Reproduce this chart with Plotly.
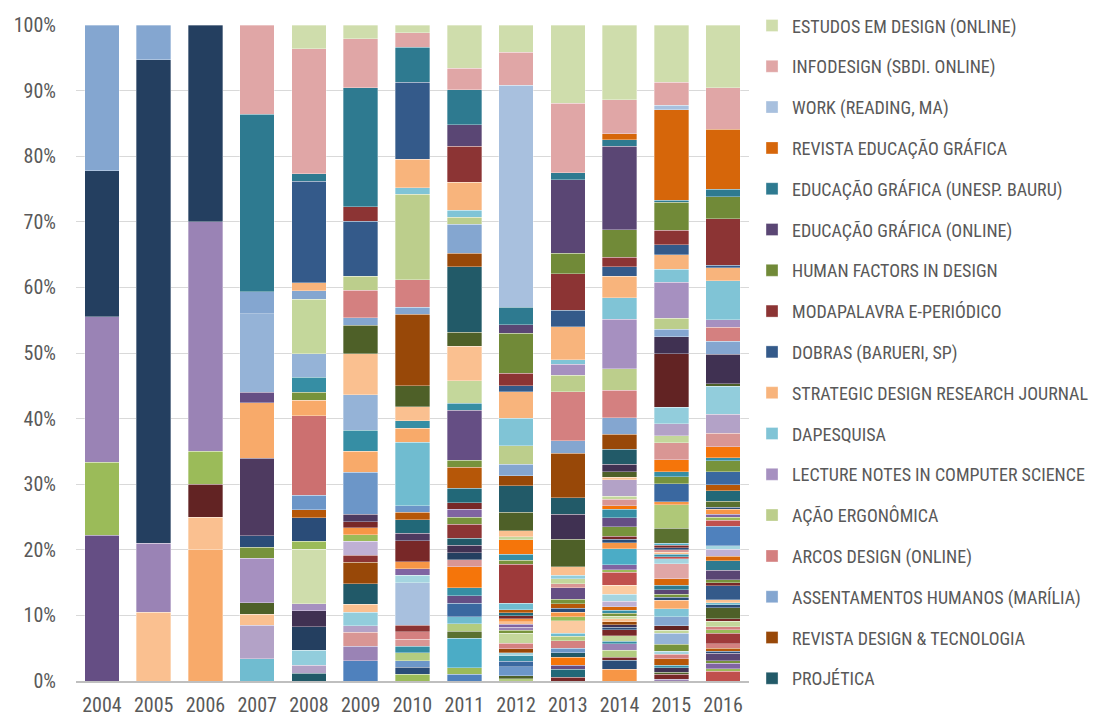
import plotly.graph_objects as go

years = ['2004', '2005', '2006', '2007', '2008', '2009', '2010',
         '2011', '2012', '2013', '2014', '2015', '2016']

# Named journals (share of articles per year, %), legend order top -> bottom
estudos_design = [0, 0, 0, 0, 3.6, 2.1, 1.2, 6.6, 4.2, 11.9, 11.4, 8.7, 9.6]
infodesign = [0, 0, 0, 13.6, 19.1, 7.5, 2.2, 3.3, 5.0, 10.6, 5.2, 3.5, 6.3]
work = [0, 0, 0, 0, 0, 0, 0, 0, 34.0, 0, 0, 0.7, 0]
revista_educ_grafica = [0, 0, 0, 0, 0, 0, 0, 0, 0, 0, 0.9, 13.8, 9.1]
educ_grafica_unesp = [0, 0, 0, 27.0, 1.1, 18.1, 5.3, 5.3, 2.7, 1.1, 1.0, 0.3, 1.2]
educ_grafica_online = [0, 0, 0, 0, 0, 0, 0, 3.3, 1.3, 11.2, 12.7, 0, 0]
human_factors = [0, 0, 0, 0, 0, 0, 0, 0, 6.1, 3.1, 4.2, 4.3, 3.3]
modapalavra = [0, 0, 0, 0, 0, 2.2, 0, 5.5, 1.9, 5.6, 1.5, 2.2, 7.1]
dobras = [0, 0, 0, 0, 15.5, 8.4, 11.8, 0, 0.9, 2.5, 1.4, 1.5, 0.4]
strategic = [0, 0, 0, 0, 1.2, 0, 4.3, 4.3, 4.1, 5.0, 3.3, 2.2, 2.0]
dapesquisa = [0, 0, 0, 0, 0, 0, 1.0, 1.0, 4.2, 0.7, 3.3, 2.0, 5.9]
lecture_notes = [0, 0, 0, 0, 0, 0, 0, 0, 0, 1.7, 7.5, 5.5, 1.2]
acao_ergonomica = [0, 0, 0, 0, 0, 2.1, 13.0, 1.1, 2.8, 2.5, 3.3, 1.7, 0]
arcos_design = [0, 0, 0, 0, 0, 4.2, 4.2, 0, 0, 7.5, 4.2, 0, 2.1]
assentamentos = [22.2, 5.3, 0, 3.4, 1.3, 1.2, 1.1, 4.4, 1.8, 1.9, 2.5, 1.1, 2.0]
revista_design_tec = [0, 0, 0, 0, 0, 0, 10.9, 2.1, 1.5, 6.8, 2.3, 0, 0]
projetica = [0, 0, 0, 0, 0, 0, 0, 10.0, 4.1, 2.5, 2.3, 0, 0]

named_series = [
    ('ESTUDOS EM DESIGN (ONLINE)', estudos_design, '#CFDDAC'),
    ('INFODESIGN (SBDI. ONLINE)', infodesign, '#E0A6A6'),
    ('WORK (READING, MA)', work, '#A8C0DE'),
    ('REVISTA EDUCAÇÃO GRÁFICA', revista_educ_grafica, '#D6660A'),
    ('EDUCAÇÃO GRÁFICA (UNESP. BAURU)', educ_grafica_unesp, '#2E7A90'),
    ('EDUCAÇÃO GRÁFICA (ONLINE)', educ_grafica_online, '#5A4674'),
    ('HUMAN FACTORS IN DESIGN', human_factors, '#718A38'),
    ('MODAPALAVRA E-PERIÓDICO', modapalavra, '#8C3434'),
    ('DOBRAS (BARUERI, SP)', dobras, '#345A8A'),
    ('STRATEGIC DESIGN RESEARCH JOURNAL', strategic, '#F8B47C'),
    ('DAPESQUISA', dapesquisa, '#80C4D6'),
    ('LECTURE NOTES IN COMPUTER SCIENCE', lecture_notes, '#A690C0'),
    ('AÇÃO ERGONÔMICA', acao_ergonomica, '#BCCE8C'),
    ('ARCOS DESIGN (ONLINE)', arcos_design, '#D48080'),
    ('ASSENTAMENTOS HUMANOS (MARÍLIA)', assentamentos, '#84A6D0'),
    ('REVISTA DESIGN & TECNOLOGIA', revista_design_tec, '#984808'),
    ('PROJÉTICA', projetica, '#225A68'),
]

# Remaining (unlabelled) journals per year, bottom -> top, share in %
other_2004 = [22.2, 11.1, 22.2, 22.2]
other_2005 = [10.5, 10.5, 73.7]
other_2006 = [20, 5, 5, 5, 35, 30]
other_2007 = [3.4, 5.1, 1.7, 1.7, 6.8, 1.7, 1.7, 11.8, 8.5, 1.6, 11.9]
other_2008 = [1.2, 1.2, 2.3, 3.6, 2.4, 1.1, 8.3, 1.2, 3.6, 1.2, 2.2, 12.1,
              2.4, 1.2, 2.3, 3.6, 8.3]
other_2009 = [3.1, 2.2, 2.1, 1.0, 2.1, 1.2, 3.1, 3.3, 1.1, 2.1, 1.0, 1.1,
              0.9, 1.1, 6.4, 3.2, 3.2, 5.4, 6.3, 4.3]
other_2010 = [1.0, 1.1, 1.0, 1.2, 1.0, 1.1, 1.1, 1.0, 6.5, 1.1, 1.0, 1.1,
              3.2, 1.1, 2.1, 1.1, 1.0, 9.7, 2.1, 1.2, 2.1, 3.2]
other_2011 = [1.0, 1.0, 4.5, 1.1, 1.1, 1.1, 2.1, 1.1, 1.2, 3.2, 1.1, 1.1,
              1.1, 1.1, 2.1, 1.1, 1.2, 1.0, 2.2, 3.2, 1.1, 7.6, 1.1, 3.4,
              5.3, 2.1]
other_2012 = [0.35, 0.45, 1.4, 0.8, 0.9, 0.4, 0.6, 0.9, 1.5, 0.45, 0.45,
              0.45, 0.45, 0.45, 0.45, 0.45, 0.45, 1.0, 6.0, 0.6, 0.9, 2.2,
              0.5, 0.9, 2.8]
other_2013 = [0.6, 1.2, 0.6, 1.2, 0.7, 0.7, 1.1, 0.7, 0.5, 1.9, 0.6, 0.7,
              0.6, 0.7, 0.7, 1.7, 0.6, 0.8, 0.5, 1.3, 4.2, 3.8]
other_2014 = [1.8, 1.4, 0.4, 1.1, 1.0, 0.4, 0.8, 0.9, 0.4, 0.4, 0.4, 0.5,
              0.4, 0.4, 0.5, 0.5, 0.9, 1.0, 1.4, 2.0, 0.4, 0.7, 2.5, 0.9,
              0.5, 0.5, 1.4, 1.4, 1.3, 0.5, 1.0, 0.5, 2.5, 0.35, 0.9, 1.1]
other_2015 = [0.3, 0.7, 0.3, 0.7, 0.4, 1.0, 0.7, 0.4, 1.1, 1.7, 0.4, 0.7,
              1.4, 1.2, 1.3, 0.5, 0.4, 0.7, 0.7, 1.0, 2.3, 0.7, 0.35, 0.35,
              0.35, 0.35, 0.35, 0.35, 0.3, 2.3, 3.6, 0.4, 2.8, 1.0, 0.8,
              1.8, 2.6, 1.1, 1.8, 2.5, 8.2, 2.6]
other_2016 = [1.5, 0.4, 0.8, 0.4, 1.1, 0.3, 0.5, 0.7, 1.6, 0.5, 0.5, 0.8,
              0.4, 1.7, 0.4, 0.3, 0.5, 2.1, 0.5, 0.4, 1.5, 1.4, 0.7, 1.1,
              0.5, 3.0, 0.9, 0.5, 0.4, 0.8, 0.3, 0.9, 1.6, 0.9, 2.0, 1.7,
              0.4, 1.7, 2.1, 2.9, 4.2, 0.4, 4.5]

# ---- styling (colours of the unlabelled segments) ----
P = {
    'nvy': '#243F60', 'nv2': '#2A4C78', 'blu': '#345A8A', 'bl3': '#3A68A0',
    'bl1': '#4F81BD', 'bl2': '#6C96C8', 'lbl': '#95B3D7', 'ass': '#84A6D0',
    'wrk': '#A8C0DE', 'pur': '#654E84', 'pu2': '#8064A2', 'lav': '#9A83B5',
    'lv2': '#A690C0', 'llv': '#B3A2C7', 'lv3': '#BFB0D4', 'dpu': '#403152',
    'dp2': '#4E3A60', 'egp': '#5A4674', 'grn': '#9BBB59', 'lg1': '#B3CC80',
    'lg2': '#C4D79B', 'lg3': '#CFDDAC', 'lg4': '#AFC878', 'olv': '#77933C',
    'dol': '#4E6028', 'do2': '#5A7030', 'red': '#C0504D', 'rd2': '#9E3A3A',
    'drd': '#8C3434', 'dr2': '#782828', 'dr3': '#622323', 'sal': '#D48080',
    'sa2': '#CC7070', 'pnk': '#D99694', 'pk2': '#E0A6A6', 'org': '#F79646',
    'or2': '#F8AA6A', 'pch': '#FAC090', 'pc2': '#FBCBA0', 'or3': '#F5750A',
    'bo': '#B65708', 'bo2': '#D6660A', 'brn': '#984808', 'cyn': '#4BACC6',
    'aq': '#70BCD0', 'aq2': '#80C4D6', 'laq': '#92CDDC', 'la2': '#A5D5E0',
    'tl': '#368EA4', 'tl2': '#2E7A90', 'dtl': '#226878', 'dt2': '#215968',
}
colors_other = {
    '2004': 'pur grn lav nvy',
    '2005': 'pch lav nvy',
    '2006': 'or2 pch dr3 grn lav nvy',
    '2007': 'aq llv pch dol lv2 olv nv2 dp2 or2 pur lbl',
    '2008': 'dt2 llv laq nvy dpu lv2 lg3 grn nv2 bo bl2 sa2 or2 olv tl lbl lg2',
    '2009': 'bl1 lav pnk llv laq pch dt2 brn drd lv3 grn org dr2 dp2 bl2 or2 tl lbl pch dol',
    '2010': 'grn nv2 bl2 lg1 tl pnk sal drd wrk la2 pu2 org dr2 dp2 dtl bo bl2 aq or2 tl pch dol',
    '2011': 'bl1 grn cyn do2 lg1 aq bl3 pur tl or3 pnk nvy dpu dt2 drd olv pu2 dr2 dtl bo olv pur tl lg2 pch dol',
    '2012': 'lg1 dol bl2 bl3 tl la2 brn sal lg2 olv lav pu2 pch org dr2 dtl bo aq rd2 olv tl or3 lg2 pch dol',
    '2013': 'dr2 dtl pur or3 dt2 bl2 sal lg1 aq pc2 grn org nv2 bo olv pur pnk lg2 laq pch dol dpu',
    '2014': 'org nv2 dr2 lg1 lav tl lg2 dr2 nv2 dpu brn pch lg2 olv tl bo2 lv3 la2 pc2 red grn pu2 cyn org nv2 dr2 olv pur tl or3 pnk lg2 llv pch dol dpu',
    '2015': 'lav dr2 dol dpu tl bo sal la2 olv lbl lg2 dr3 ass aq2 or2 nv2 olv egp tl2 bo2 pk2 la2 red tl pch pnk nv2 dr2 cyn do2 lg4 org bl3 olv tl or3 pnk lg2 llv laq dr3 dpu',
    '2016': 'red grn pu2 olv egp nv2 bo sal rd2 grn sal lg2 dr2 dol nv2 aq pch blu dr2 olv egp tl2 bo2 lv3 la2 bl1 red grn pu2 org nv2 do2 dtl bo bl3 olv tl or3 pnk llv laq dol dpu',
}
other_values = {
    '2004': other_2004, '2005': other_2005, '2006': other_2006, '2007': other_2007,
    '2008': other_2008, '2009': other_2009, '2010': other_2010, '2011': other_2011,
    '2012': other_2012, '2013': other_2013, '2014': other_2014, '2015': other_2015,
    '2016': other_2016,
}

SEG_LINE = dict(color='rgba(255,255,255,0.55)', width=0.6)
FONT = 'Roboto Condensed, Liberation Sans Narrow, Arial Narrow, Roboto, sans-serif'

fig = go.Figure()

for yr in years:
    vals = other_values[yr]
    cols = colors_other[yr].split()
    for v, c in zip(vals, cols):
        fig.add_trace(go.Bar(
            x=[yr], y=[v], marker=dict(color=P[c], line=SEG_LINE),
            showlegend=False, hoverinfo='skip'))

for rank, (name, vals, col) in reversed(list(enumerate(named_series))):
    fig.add_trace(go.Bar(
        x=years, y=[v if v else None for v in vals], name=name,
        legendgroup=name, legendrank=rank + 1,
        marker=dict(color=col, line=SEG_LINE)))

fig.update_layout(
    width=1091, height=710,
    barmode='stack', barnorm='percent', bargap=0.334,
    paper_bgcolor='white', plot_bgcolor='white',
    margin=dict(l=68, r=350, t=17, b=37, autoexpand=False),
    font=dict(family=FONT, size=17, color='#595959'),
    xaxis=dict(type='category', categoryorder='array', categoryarray=years,
               showline=True, linecolor='#BFBFBF', linewidth=1.5,
               ticks='', tickfont=dict(size=20, color='#595959'),
               ticklabelstandoff=5, showgrid=False),
    yaxis=dict(range=[0, 100], dtick=10, ticksuffix='%',
               showgrid=True, gridcolor='#D9D9D9', gridwidth=1,
               zeroline=False, showline=False, ticklabelstandoff=19,
               tickfont=dict(size=20, color='#595959')),
    legend=dict(x=1.0045, xanchor='left', y=1.027, yanchor='top',
                traceorder='grouped', tracegroupgap=14.4, maxheight=2000,
                font=dict(size=18, color='#595959'),
                bgcolor='rgba(0,0,0,0)', itemclick=False),
)

fig.write_html('out.html')
